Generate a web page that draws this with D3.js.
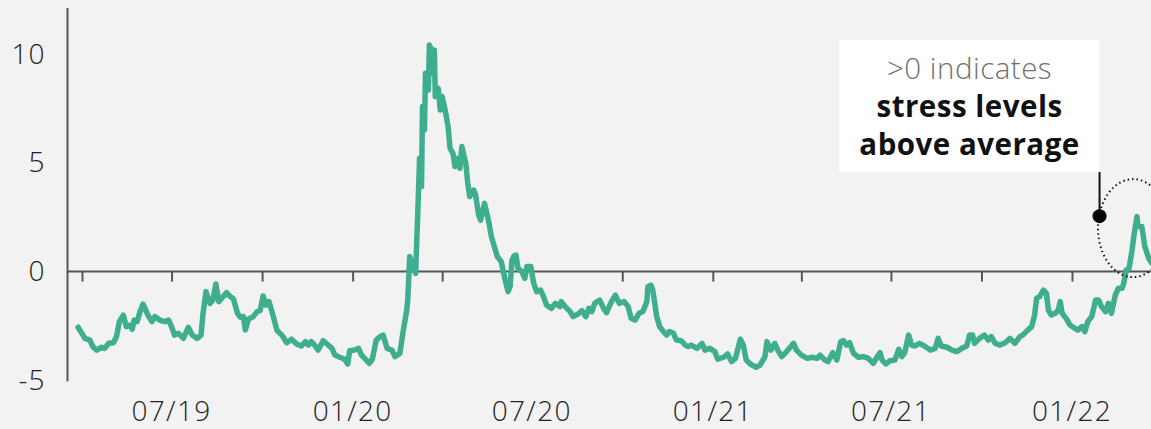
<!DOCTYPE html>
<html>
<head>
<meta charset="utf-8">
<script src="https://cdn.jsdelivr.net/npm/d3@7"></script>
<style>
  html, body { margin: 0; padding: 0; background: #f2f2f2; }
  svg { display: block; }
</style>
</head>
<body>
<svg id="chart" width="1151" height="429"></svg>
<script>
// ---- data ----
const startDate = "2019-04-01";
const dayOffsets = [
  -4, 3, 8, 11, 15, 20, 23, 27, 32, 35, 38, 42, 45, 49, 51, 53, 56, 59, 62, 67,
  71, 74, 79, 84, 88, 91, 94, 98, 103, 108, 112, 117, 121, 123, 126, 130, 133, 136, 139, 143,
  147, 150, 154, 158, 161, 164, 166, 169, 174, 178, 181, 184, 187, 190, 194, 198, 203, 208, 213, 218,
  223, 227, 230, 233, 237, 240, 245, 249, 254, 257, 262, 267, 270, 272, 277, 281, 284, 288, 292, 295,
  299, 303, 306, 310, 315, 318, 323, 326, 330, 331, 333, 337, 339, 342, 343, 345, 346, 348, 349, 352,
  353, 355, 356, 358, 359, 362, 364, 366, 369, 372, 374, 377, 379, 382, 384, 386, 390, 392, 394, 398,
  400, 403, 405, 409, 413, 416, 418, 422, 426, 430, 433, 435, 437, 439, 441, 443, 447, 450, 452, 456,
  459, 462, 466, 469, 472, 477, 481, 486, 487, 491, 496, 499, 504, 508, 512, 515, 518, 521, 526, 530,
  533, 538, 542, 546, 551, 555, 558, 562, 566, 570, 574, 575, 578, 580, 582, 584, 587, 591, 594, 597,
  601, 604, 609, 613, 616, 619, 625, 630, 633, 638, 643, 646, 652, 656, 660, 664, 669, 672, 675, 679,
  685, 689, 694, 696, 700, 704, 707, 711, 716, 723, 726, 731, 737, 742, 747, 750, 755, 758, 763, 767,
  771, 774, 777, 780, 784, 789, 794, 799, 804, 807, 811, 813, 817, 821, 826, 830, 833, 836, 840, 843,
  846, 851, 856, 862, 867, 870, 873, 879, 884, 889, 894, 899, 902, 905, 907, 912, 917, 921, 924, 928,
  933, 938, 943, 948, 953, 956, 961, 965, 968, 970, 973, 977, 980, 982, 985, 989, 992, 994, 996, 1000,
  1004, 1009, 1012, 1016, 1019, 1022, 1026, 1030, 1033, 1036, 1040, 1043, 1046, 1050, 1053, 1057, 1059, 1061, 1064, 1067,
  1069, 1072, 1073, 1077, 1080, 1084, 1086, 1090
];
const stressValues = [
  -2.56, -3.07, -3.15, -3.45, -3.61, -3.48, -3.53, -3.30, -3.27, -2.99, -2.30, -2.00, -2.53, -2.46, -2.65, -2.23, -2.30, -1.84, -1.50, -2.00,
  -2.30, -2.07, -2.23, -2.30, -2.23, -2.53, -2.92, -2.84, -3.07, -2.56, -2.92, -3.07, -2.92, -1.92, -0.92, -1.46, -1.31, -0.57, -1.38, -1.17,
  -0.97, -1.12, -1.27, -1.92, -2.10, -2.07, -2.69, -2.19, -2.07, -1.84, -1.80, -1.12, -1.54, -1.38, -2.00, -2.69, -2.92, -3.27, -3.11, -3.33,
  -3.42, -3.22, -3.38, -3.22, -3.42, -3.61, -3.18, -3.33, -3.53, -3.84, -3.94, -4.03, -4.25, -3.64, -3.61, -3.53, -3.84, -4.03, -4.22, -4.03,
  -3.15, -2.99, -2.92, -3.53, -3.61, -3.91, -3.76, -2.84, -1.77, -1.31, 0.69, 0.17, -0.08, 3.75, 5.21, 3.91, 7.59, 6.51, 9.12, 8.35,
  10.42, 10.19, 9.12, 10.19, 8.05, 8.43, 7.43, 8.05, 7.43, 6.67, 5.67, 5.44, 4.83, 5.21, 4.75, 5.75, 4.98, 4.06, 3.45, 3.75,
  3.52, 2.60, 2.37, 3.14, 2.37, 1.61, 1.30, 0.69, 0.46, -0.39, -0.92, -0.69, 0.53, 0.72, 0.76, 0.15, 0.00, -0.31, 0.23, 0.23,
  -0.54, -0.92, -0.85, -1.15, -1.54, -1.69, -1.46, -1.61, -1.38, -1.61, -1.84, -2.07, -1.95, -1.80, -2.07, -1.69, -1.84, -1.46, -1.31, -1.69,
  -1.89, -1.38, -1.08, -1.46, -1.38, -1.61, -2.15, -2.23, -1.92, -1.84, -1.38, -0.69, -0.62, -0.85, -1.46, -2.07, -2.53, -2.76, -2.92, -2.76,
  -2.84, -3.15, -3.18, -3.38, -3.45, -3.38, -3.53, -3.30, -3.61, -3.53, -3.68, -4.03, -3.94, -3.79, -4.14, -3.99, -3.11, -3.38, -4.07, -4.25,
  -4.40, -4.30, -3.91, -3.22, -3.61, -3.30, -3.61, -3.91, -3.68, -3.30, -3.61, -3.84, -3.99, -3.94, -3.99, -3.84, -4.07, -4.14, -3.73, -4.07,
  -3.22, -3.18, -3.38, -3.27, -3.76, -3.94, -3.91, -3.99, -4.22, -3.99, -3.73, -4.07, -4.25, -4.10, -4.07, -3.57, -3.91, -3.73, -2.92, -3.38,
  -3.42, -3.30, -3.42, -3.61, -3.53, -3.07, -3.42, -3.48, -3.61, -3.68, -3.53, -3.42, -2.92, -2.92, -3.30, -3.07, -2.92, -3.15, -2.99, -3.30,
  -3.38, -3.27, -3.07, -3.30, -2.99, -2.92, -2.69, -2.53, -2.00, -1.23, -1.15, -0.85, -1.00, -1.77, -2.00, -1.92, -1.77, -1.38, -1.92, -2.15,
  -2.46, -2.61, -2.69, -2.53, -2.76, -2.30, -2.07, -1.31, -1.31, -1.61, -1.84, -1.46, -1.92, -1.08, -0.77, -0.77, -0.46, 0.07, 0.15, 0.99,
  1.68, 2.53, 2.07, 2.07, 1.15, 0.61, 0.46, 0.25
];
const yTickValues = [-5, 0, 5, 10];
const xTickDates = ["2019-04-01", "2019-07-01", "2019-10-01", "2020-01-01", "2020-04-01", "2020-07-01",
                    "2020-10-01", "2021-01-01", "2021-04-01", "2021-07-01", "2021-10-01", "2022-01-01"];
const xLabelDates = ["2019-07-01", "2020-01-01", "2020-07-01", "2021-01-01", "2021-07-01", "2022-01-01"];
const annotationLines = [">0 indicates", "stress levels", "above average"];
const annotationDot = { day: 1034, value: 2.55 };
const annotationEllipse = { day: 1068, value: 2.0 };

// ---- setup ----
const parse = d3.utcParse("%Y-%m-%d");
const start = parse(startDate);
const series = dayOffsets.map((d, i) => ({ date: d3.utcDay.offset(start, d), value: stressValues[i] }));

const svg = d3.select("#chart");
const W = 1151, H = 429;
const axisX = 67.5;
const FONT = "'Open Sans', 'Noto Sans', sans-serif";

const x = d3.scaleUtc()
  .domain([parse("2019-04-01"), parse("2022-01-01")])
  .range([82, 1072]);
const y = d3.scaleLinear()
  .domain([-5, 10])
  .range([380.3, 54.2]);

svg.append("rect").attr("width", W).attr("height", H).attr("fill", "#f2f2f2");

// y axis line
svg.append("line")
  .attr("x1", axisX).attr("x2", axisX)
  .attr("y1", 8).attr("y2", y(-5) + 1)
  .attr("stroke", "#555").attr("stroke-width", 2);

// y tick labels
svg.append("g").selectAll("text").data(yTickValues).join("text")
  .attr("x", 45.5)
  .attr("y", d => y(d) + 9.5)
  .attr("text-anchor", "end")
  .attr("font-family", FONT)
  .attr("font-weight", 300)
  .attr("font-size", 28)
  .attr("letter-spacing", 1)
  .attr("fill", "#222")
  .text(d => d);

// zero line with quarterly ticks
const zeroAxis = d3.axisBottom(x)
  .tickValues(xTickDates.map(parse))
  .tickSize(10)
  .tickSizeOuter(0)
  .tickFormat("");
const gz = svg.append("g").attr("transform", `translate(0,${y(0)})`).call(zeroAxis);
gz.select(".domain").remove();
gz.selectAll(".tick line").attr("stroke", "#555").attr("stroke-width", 2);
svg.append("line")
  .attr("x1", axisX).attr("x2", W)
  .attr("y1", y(0)).attr("y2", y(0))
  .attr("stroke", "#555").attr("stroke-width", 2);

// x labels at bottom
svg.append("g").selectAll("text").data(xLabelDates.map(parse)).join("text")
  .attr("x", d => x(d))
  .attr("y", 421)
  .attr("text-anchor", "middle")
  .attr("font-family", FONT)
  .attr("font-weight", 300)
  .attr("font-size", 28)
  .attr("letter-spacing", 1.3)
  .attr("fill", "#222")
  .text(d => d3.utcFormat("%m/%y")(d));

// data line
const line = d3.line().x(d => x(d.date)).y(d => y(d.value)).curve(d3.curveLinear);
svg.append("path")
  .datum(series)
  .attr("d", line)
  .attr("fill", "none")
  .attr("stroke", "#3fae8f")
  .attr("stroke-width", 5.5)
  .attr("stroke-linejoin", "round")
  .attr("stroke-linecap", "round");

// annotation
const dotX = x(d3.utcDay.offset(start, annotationDot.day));
const dotY = y(annotationDot.value);
const boxW = 260, boxH = 132;
const boxX = dotX - boxW, boxY = 40;
svg.append("rect")
  .attr("x", boxX).attr("y", boxY).attr("width", boxW).attr("height", boxH)
  .attr("fill", "#ffffff");
const cx = boxX + boxW / 2;
const ta = svg.append("text")
  .attr("text-anchor", "middle")
  .attr("font-family", FONT)
  .attr("font-size", 29.5);
annotationLines.forEach((t, i) => {
  ta.append("tspan")
    .attr("x", cx)
    .attr("y", 79 + i * 38)
    .attr("font-weight", i === 0 ? 300 : 700)
    .attr("letter-spacing", 0.5)
    .attr("fill", i === 0 ? "#707070" : "#111")
    .text(t);
});
svg.append("line")
  .attr("x1", dotX).attr("x2", dotX)
  .attr("y1", boxY + boxH).attr("y2", dotY)
  .attr("stroke", "#111").attr("stroke-width", 2);
svg.append("ellipse")
  .attr("cx", x(d3.utcDay.offset(start, annotationEllipse.day)))
  .attr("cy", y(annotationEllipse.value))
  .attr("rx", 35).attr("ry", 49)
  .attr("fill", "none")
  .attr("stroke", "#111")
  .attr("stroke-width", 2)
  .attr("stroke-dasharray", "1.5 3");
svg.append("circle")
  .attr("cx", dotX).attr("cy", dotY).attr("r", 7)
  .attr("fill", "#000");
</script>
</body>
</html>
